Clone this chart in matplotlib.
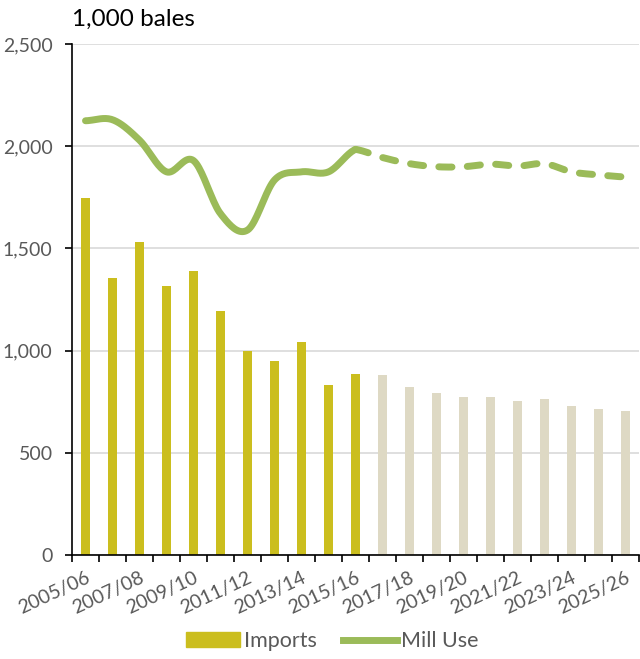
import numpy as np
import matplotlib.pyplot as plt
from matplotlib.patches import Patch
from matplotlib.lines import Line2D

plt.rcParams['font.family'] = ['Lato', 'DejaVu Sans']

years = ["2005/06", "2006/07", "2007/08", "2008/09", "2009/10", "2010/11",
         "2011/12", "2012/13", "2013/14", "2014/15", "2015/16", "2016/17",
         "2017/18", "2018/19", "2019/20", "2020/21", "2021/22", "2022/23",
         "2023/24", "2024/25", "2025/26"]
imports = [1745, 1355, 1530, 1315, 1390, 1195, 1000, 950, 1040, 830, 885,
           880, 820, 790, 775, 775, 755, 765, 730, 715, 705]
mill_use = [2125, 2130, 2030, 1875, 1930, 1670, 1590, 1835, 1875, 1875, 1985,
            1945, 1915, 1900, 1900, 1913, 1903, 1915, 1875, 1860, 1850]
n_actual = 11  # 2005/06 .. 2015/16 are actual, rest projected

bar_actual = "#CBBE1E"
bar_proj = "#DED9C4"
line_col = "#9BBB59"


def smooth(xs, ys, steps=20):
    # Catmull-Rom style smoothing like the spreadsheet "smoothed line"
    xs = np.asarray(xs, float)
    ys = np.asarray(ys, float)
    px = np.concatenate([[2 * xs[0] - xs[1]], xs, [2 * xs[-1] - xs[-2]]])
    py = np.concatenate([[ys[0]], ys, [ys[-1]]])
    out_x, out_y = [], []
    for i in range(1, len(px) - 2):
        t = np.linspace(0, 1, steps, endpoint=False)
        for p, out in ((px, out_x), (py, out_y)):
            p0, p1, p2, p3 = p[i - 1], p[i], p[i + 1], p[i + 2]
            m1 = (p2 - p0) / 2
            m2 = (p3 - p1) / 2
            h = (2 * t**3 - 3 * t**2 + 1) * p1 + (t**3 - 2 * t**2 + t) * m1 \
                + (-2 * t**3 + 3 * t**2) * p2 + (t**3 - t**2) * m2
            out.extend(h.tolist())
    out_x.append(xs[-1])
    out_y.append(ys[-1])
    return np.array(out_x), np.array(out_y)


fig = plt.figure(figsize=(6.4, 6.59), dpi=100)
ax = fig.add_axes([0.1125, 0.158, 0.886, 0.775])

x = np.arange(len(years))
colors = [bar_actual if i < n_actual else bar_proj for i in range(len(years))]
ax.bar(x, imports, width=0.33, color=colors, zorder=2)

sx, sy = smooth(x[:n_actual], mill_use[:n_actual])
ax.plot(sx, sy, color=line_col, lw=5, solid_capstyle='round', zorder=3)
dx, dy = smooth(x[n_actual - 1:], mill_use[n_actual - 1:])
ax.plot(dx, dy, color=line_col, lw=5, linestyle=(0, (1.9, 2.2)),
        dash_capstyle='round', zorder=3)

ax.set_xlim(-0.5, len(years) - 0.5)
ax.set_ylim(0, 2500)
ax.set_yticks(np.arange(0, 2501, 500))
ax.set_yticklabels([f"{v:,}" for v in range(0, 2501, 500)])
ax.yaxis.grid(True, color="#D9D9D9", lw=1.2, zorder=0)
ax.set_axisbelow(True)

ax.set_xticks(x[::2])
ax.set_xticklabels(years[::2], rotation=25, ha='right', rotation_mode='anchor')
ax.set_xticks(np.arange(-0.5, len(years)), minor=True)
ax.tick_params(axis='x', which='major', length=0, pad=10, labelsize=14,
               labelcolor="#595959")
ax.tick_params(axis='x', which='minor', length=5, width=1.2, color='black')
ax.tick_params(axis='y', length=5, width=1.2, labelsize=14,
               labelcolor="#595959", pad=9)

for s in ['top', 'right']:
    ax.spines[s].set_visible(False)
ax.spines['left'].set_linewidth(1.2)
ax.spines['bottom'].set_linewidth(1.2)

fig.text(0.1125, 0.97, "1,000 bales", fontsize=17.5, ha='left', va='center')

handles = [Patch(color=bar_actual, label="Imports"),
           Line2D([0], [0], color=line_col, lw=5, label="Mill Use")]
fig.legend(handles=handles, loc='center', bbox_to_anchor=(0.519, 0.027),
           ncol=2, frameon=False, fontsize=15.5, labelcolor="#595959",
           handlelength=2.5, handletextpad=0.2, columnspacing=1.2)

plt.savefig("out.png", dpi=100)
